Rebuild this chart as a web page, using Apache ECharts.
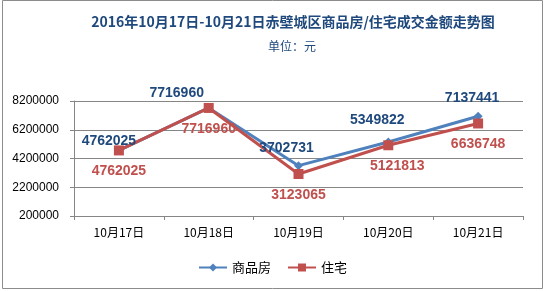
<!DOCTYPE html>
<html>
<head>
<meta charset="utf-8">
<script src="https://cdn.jsdelivr.net/npm/echarts@6/dist/echarts.min.js"></script>
<style>
html,body{margin:0;padding:0;background:#fff;}
#c{width:545px;height:291px;}
</style>
</head>
<body>
<div id="c"></div>
<script>
const titleText = '2016年10月17日-10月21日赤壁城区商品房/住宅成交金额走势图';
const subtitleText = '单位：元';
const categories = ['10月17日', '10月18日', '10月19日', '10月20日', '10月21日'];
const seriesNames = ['商品房', '住宅'];
const commercialValues = [4762025, 7716960, 3702731, 5349822, 7137441];
const residentialValues = [4762025, 7716960, 3123065, 5121813, 6636748];
const yMin = 200000, yMax = 8200000, yStep = 2000000;

// label nudges (styling only)
const blueLabelDx = [-10, -32, -12, -11, -6];
const blueLabelDy = [7, 2, -1, -5, -2];
const redLabelDx = [0, 0, 0, 9, 0];

const chart = echarts.init(document.getElementById('c'), null, {renderer: 'canvas'});
const numFont = 'Liberation Sans, Arial, sans-serif';
const cjk = '"Noto Sans CJK SC", sans-serif';

chart.setOption({
  animation: false,
  backgroundColor: '#fff',
  title: [{
    text: titleText,
    left: 288, top: 10, textAlign: 'center',
    textStyle: {fontSize: 14, fontWeight: 'bold', color: '#1F497D', fontFamily: cjk}
  }, {
    text: subtitleText,
    left: 287, top: 35, textAlign: 'center',
    textStyle: {fontSize: 12, fontWeight: 'normal', color: '#1F497D', fontFamily: cjk}
  }],
  graphic: [{
    type: 'rect', shape: {x: 2.5, y: 0.5, width: 540, height: 288},
    style: {fill: 'none', stroke: '#8c8c8c', lineWidth: 1}, silent: true
  }],
  legend: {
    bottom: 12, left: 'center',
    itemWidth: 28, itemHeight: 10, itemGap: 16,
    textStyle: {fontSize: 13, color: '#000', fontFamily: cjk},
    data: seriesNames
  },
  grid: {left: 74, right: 22, top: 101, bottom: 75, containLabel: false},
  xAxis: {
    type: 'category', data: categories, boundaryGap: true,
    axisLine: {lineStyle: {color: '#868686', width: 1}},
    axisTick: {show: true, length: 4, lineStyle: {color: '#868686'}, alignWithLabel: false},
    axisLabel: {fontSize: 12, color: '#000', margin: 10, fontFamily: cjk}
  },
  yAxis: {
    type: 'value', min: yMin, max: yMax, interval: yStep,
    axisLine: {show: true, lineStyle: {color: '#868686', width: 1}},
    axisTick: {show: true, length: 4, lineStyle: {color: '#868686'}},
    splitLine: {show: true, lineStyle: {color: '#868686', width: 1}},
    axisLabel: {fontSize: 12, color: '#000', margin: 15, fontFamily: numFont,
      formatter: v => String(v)}
  },
  series: [{
    name: seriesNames[0], type: 'line',
    data: commercialValues.map((v, i) => ({value: v, label: {offset: [blueLabelDx[i], blueLabelDy[i]]}})),
    symbol: 'diamond', symbolSize: 9,
    lineStyle: {color: '#4F81BD', width: 3},
    itemStyle: {color: '#4F81BD'},
    label: {show: true, position: 'top', distance: 5, color: '#1F497D',
      fontSize: 14, fontWeight: 'bold', fontFamily: numFont}
  }, {
    name: seriesNames[1], type: 'line',
    data: residentialValues.map((v, i) => ({value: v, label: {offset: [redLabelDx[i], 0]}})),
    symbol: 'rect', symbolSize: 10,
    lineStyle: {color: '#C0504D', width: 3},
    itemStyle: {color: '#C0504D'},
    label: {show: true, position: 'bottom', distance: 9, color: '#C0504D',
      fontSize: 14, fontWeight: 'bold', fontFamily: numFont}
  }]
});
</script>
</body>
</html>
